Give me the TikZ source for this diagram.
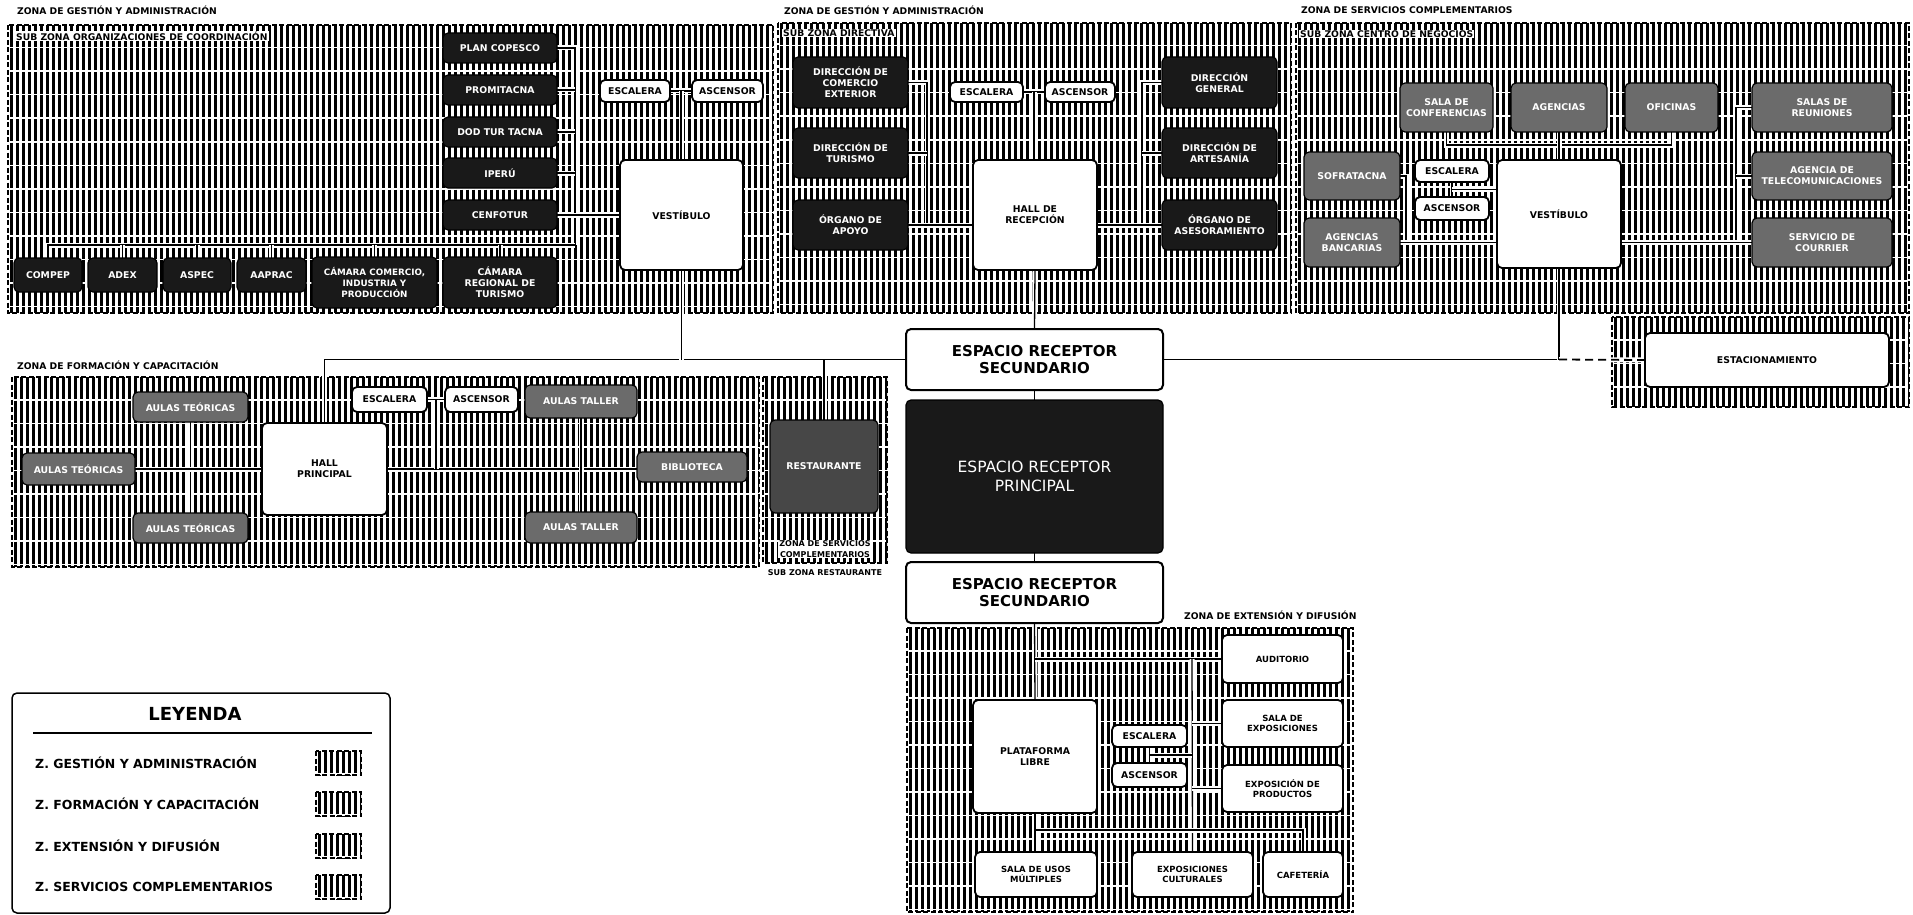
\documentclass[tikz,border=0pt]{standalone}
\usepackage{fontspec}
\setmainfont{DejaVu Sans}
\usetikzlibrary{calc}
\pgfdeclarelayer{bg}
\pgfdeclarelayer{cn}
\pgfsetlayers{bg,cn,main}
\tikzset{
  zoneborder/.style={draw=black, line width=2pt, dash pattern=on 5pt off 2.5pt},
  hatchline/.style={draw=black, line width=3pt, dash pattern=on 22pt off 1.5pt},
  blk/.style={draw=black, line width=1.2pt, fill=black!90, text=white, rounded corners=5pt,
    font=\bfseries\fontsize{9.3}{11}\selectfont, align=center, inner sep=0pt, outer sep=0pt},
  gry/.style={blk, fill=black!58},
  wht/.style={draw=black, line width=1.8pt, fill=white, rounded corners=5pt,
    font=\bfseries\fontsize{9.3}{11}\selectfont, align=center, inner sep=0pt, outer sep=0pt},
  whtreg/.style={wht, font=\bfseries\fontsize{8.5}{10.5}\selectfont},
  big/.style={wht, line width=2pt, font=\bfseries\fontsize{15}{17}\selectfont},
  conn/.style={draw=black, line width=1.3pt, preaction={draw=white, line width=5pt}},
  conndash/.style={draw=black, line width=1.8pt, dash pattern=on 8pt off 5pt,
    preaction={draw=white, line width=5pt, solid}},
  zlabel/.style={font=\bfseries\fontsize{9.2}{10}\selectfont, anchor=west, inner sep=1pt, fill=white},
  leg/.style={font=\bfseries\fontsize{12.5}{14}\selectfont, anchor=west, inner sep=0pt},
}
\newcommand\hatchzone[4]{%
  \begin{scope}
    \clip (#1,#2) rectangle (#3,#4);
    \pgfmathsetmacro\hza{#1+3}%
    \pgfmathsetmacro\hzb{#1+9}%
    \foreach \xx in {\hza,\hzb,...,#3} \draw[hatchline] (\xx,#2) -- (\xx,#4);
  \end{scope}%
  \draw[zoneborder] (#1,#2) rectangle (#3,#4);}
\newcommand\bx[7]{%
  \pgfmathsetmacro\bxw{#4-#2}%
  \pgfmathsetmacro\bxh{#5-#3}%
  \node[#6, minimum width=\bxw pt, minimum height=\bxh pt] (#1) at ({(#2+#4)/2},{(#3+#5)/2}) {#7};}
\begin{document}
\begin{tikzpicture}[x=1pt,y=-1pt]
\useasboundingbox (0,0) rectangle (1913,915);
\begin{pgfonlayer}{bg}
\fill[white] (0,0) rectangle (1913,915);
\hatchzone{8}{25}{773}{313}
\hatchzone{778}{23}{1291}{313}
\hatchzone{1296}{23}{1909}{313}
\hatchzone{1612}{317}{1909}{407}
\hatchzone{12}{377}{759}{567}
\hatchzone{763}{377}{887}{563}
\hatchzone{907}{628}{1353}{912}
\end{pgfonlayer}

% zone labels
\node[zlabel] (lz1) at (16,10) {ZONA DE GESTIÓN Y ADMINISTRACIÓN};
\node[zlabel] (lsz1) at (15,36) {SUB ZONA ORGANIZACIONES DE COORDINACIÓN};
\node[zlabel] (lz2) at (783,10) {ZONA DE GESTIÓN Y ADMINISTRACIÓN};
\node[zlabel] (lsz2) at (782,33) {SUB ZONA DIRECTIVA};
\node[zlabel] (lz3) at (1300,10) {ZONA DE SERVICIOS COMPLEMENTARIOS};
\node[zlabel] (lsz3) at (1299,34) {SUB ZONA CENTRO DE NEGOCIOS};
\node[zlabel] (lz4) at (16,365) {ZONA DE FORMACIÓN Y CAPACITACIÓN};
\node[zlabel] (lz5) at (1183,615) {ZONA DE EXTENSIÓN Y DIFUSIÓN};
\node[zlabel, anchor=center, align=center, font=\bfseries\fontsize{8}{10.5}\selectfont] (lz6) at (825,549) {ZONA DE SERVICIOS\\COMPLEMENTARIOS};
\node[zlabel, anchor=center, font=\bfseries\fontsize{8}{9}\selectfont] (lsz6) at (825,573) {SUB ZONA RESTAURANTE};

% zone 1
\bx{pc}{443}{33}{557}{63}{blk}{PLAN COPESCO}
\bx{pro}{443}{75}{557}{105}{blk}{PROMITACNA}
\bx{dod}{443}{117}{557}{147}{blk}{DOD TUR TACNA}
\bx{ipe}{443}{158}{557}{188}{blk}{IPERÚ}
\bx{cen}{443}{200}{557}{230}{blk}{CENFOTUR}
\bx{crt}{443}{257}{557}{308}{blk}{CÁMARA\\REGIONAL DE\\TURISMO}
\bx{cci}{312}{257}{437}{308}{blk, font=\bfseries\fontsize{8.8}{11}\selectfont}{CÁMARA COMERCIO,\\INDUSTRIA Y\\PRODUCCIÓN}
\bx{com}{14}{258}{82}{292}{blk}{COMPEP}
\bx{adx}{88}{258}{157}{292}{blk}{ADEX}
\bx{asp}{163}{258}{231}{292}{blk}{ASPEC}
\bx{aap}{237}{258}{306}{292}{blk}{AAPRAC}
\bx{ves1}{620}{160}{743}{270}{wht}{VESTÍBULO}
\bx{esc1}{600}{80}{670}{102}{wht}{ESCALERA}
\bx{asc1}{692}{80}{763}{102}{wht}{ASCENSOR}

% zone 2
\bx{dce}{793}{57}{908}{108}{blk}{DIRECCIÓN DE\\COMERCIO\\EXTERIOR}
\bx{dtu}{793}{128}{908}{178}{blk}{DIRECCIÓN DE\\TURISMO}
\bx{oap}{793}{200}{908}{250}{blk}{ÓRGANO DE\\APOYO}
\bx{esc2}{950}{82}{1023}{102}{wht}{ESCALERA}
\bx{asc2}{1045}{82}{1115}{102}{wht}{ASCENSOR}
\bx{hal}{973}{160}{1097}{270}{wht}{HALL DE\\RECEPCIÓN}
\bx{dge}{1162}{57}{1277}{108}{blk}{DIRECCIÓN\\GENERAL}
\bx{dar}{1162}{128}{1277}{178}{blk}{DIRECCIÓN DE\\ARTESANÍA}
\bx{oas}{1162}{200}{1277}{250}{blk}{ÓRGANO DE\\ASESORAMIENTO}

% zone 3
\bx{sco}{1400}{83}{1493}{132}{gry}{SALA DE\\CONFERENCIAS}
\bx{age}{1511}{83}{1607}{132}{gry}{AGENCIAS}
\bx{ofi}{1625}{83}{1718}{132}{gry}{OFICINAS}
\bx{sre}{1752}{83}{1892}{132}{gry}{SALAS DE\\REUNIONES}
\bx{ate}{1752}{152}{1892}{200}{gry}{AGENCIA DE\\TELECOMUNICACIONES}
\bx{scu}{1752}{218}{1892}{267}{gry}{SERVICIO DE\\COURRIER}
\bx{sof}{1304}{152}{1400}{200}{gry}{SOFRATACNA}
\bx{aba}{1304}{218}{1400}{267}{gry}{AGENCIAS\\BANCARIAS}
\bx{esc3}{1415}{160}{1489}{182}{wht}{ESCALERA}
\bx{asc3}{1415}{197}{1489}{220}{wht}{ASCENSOR}
\bx{ves3}{1497}{160}{1621}{268}{wht}{VESTÍBULO}
\bx{est}{1645}{333}{1889}{387}{wht}{ESTACIONAMIENTO}

% central
\bx{ers1}{906}{329}{1163}{390}{big}{ESPACIO RECEPTOR\\SECUNDARIO}
\bx{erp}{906}{400}{1163}{553}{blk, font=\fontsize{15.5}{19}\selectfont}{ESPACIO RECEPTOR\\PRINCIPAL}
\bx{ers2}{906}{562}{1163}{623}{big}{ESPACIO RECEPTOR\\SECUNDARIO}

% formation
\bx{at1}{133}{392}{248}{422}{gry}{AULAS TEÓRICAS}
\bx{at2}{22}{453}{135}{485}{gry}{AULAS TEÓRICAS}
\bx{at3}{133}{513}{248}{543}{gry}{AULAS TEÓRICAS}
\bx{hp}{262}{423}{387}{515}{wht}{HALL\\PRINCIPAL}
\bx{esc4}{352}{387}{427}{412}{wht}{ESCALERA}
\bx{asc4}{445}{387}{518}{412}{wht}{ASCENSOR}
\bx{ata1}{525}{385}{637}{418}{gry}{AULAS TALLER}
\bx{bib}{637}{452}{747}{482}{gry}{BIBLIOTECA}
\bx{ata2}{525}{512}{637}{543}{gry}{AULAS TALLER}
\bx{res}{770}{420}{878}{513}{gry, fill=black!72}{RESTAURANTE}

% extension
\bx{plat}{973}{700}{1097}{813}{wht}{PLATAFORMA\\LIBRE}
\bx{esc5}{1112}{725}{1187}{747}{wht}{ESCALERA}
\bx{asc5}{1112}{763}{1187}{787}{wht}{ASCENSOR}
\bx{aud}{1222}{635}{1343}{683}{whtreg}{AUDITORIO}
\bx{sex}{1222}{700}{1343}{747}{whtreg}{SALA DE\\EXPOSICIONES}
\bx{epr}{1222}{765}{1343}{812}{whtreg}{EXPOSICIÓN DE\\PRODUCTOS}
\bx{bo1}{975}{852}{1097}{897}{whtreg}{SALA DE USOS\\MÚLTIPLES}
\bx{bo2}{1132}{852}{1253}{897}{whtreg}{EXPOSICIONES\\CULTURALES}
\bx{bo3}{1263}{852}{1343}{897}{whtreg}{CAFETERÍA}

% legend
\node[draw=black, line width=1.5pt, rounded corners=5pt, minimum width=378pt, minimum height=220pt, inner sep=0pt] (legbox) at (201,803) {};
\node[font=\bfseries\fontsize{18}{20}\selectfont] (legt) at (195,714) {LEYENDA};
\coordinate (lgl) at (33,733);
\coordinate (lgr) at (372,733);
\draw[line width=1.2pt] (lgl) -- (lgr);
\node[leg] (lg1) at (35,763) {Z. GESTIÓN Y ADMINISTRACIÓN};
\node[leg] (lg2) at (35,804) {Z. FORMACIÓN Y CAPACITACIÓN};
\node[leg] (lg3) at (35,846) {Z. EXTENSIÓN Y DIFUSIÓN};
\node[leg] (lg4) at (35,887) {Z. SERVICIOS COMPLEMENTARIOS};
\hatchzone{316}{751}{361}{775}
\hatchzone{316}{792}{361}{816}
\hatchzone{316}{834}{361}{858}
\hatchzone{316}{875}{361}{899}

% junction coordinates
\coordinate (V1) at (575,0);
\coordinate (B1) at (0,245);
\coordinate (L2) at (927,0);
\coordinate (R2) at (1142,0);
\coordinate (T3) at (0,145);
\coordinate (L3) at (1406,0);
\coordinate (R3) at (1736,0);
\coordinate (X5) at (1192,0);
\coordinate (B5) at (0,830);
\coordinate (j1) at ($(esc1.east)!0.5!(asc1.west)$);
\coordinate (j2) at ($(esc2.east)!0.5!(asc2.west)$);
\coordinate (j3) at ($(esc3.south)!0.5!(asc3.north)$);
\coordinate (j4) at ($(esc4.east)!0.5!(asc4.west)$);
\coordinate (j5) at ($(esc5.south)!0.5!(asc5.north)$);
\coordinate (pk) at (ves3.south |- ers1.east);

\begin{pgfonlayer}{cn}
% zone 1
\draw[conn] (pc.east) -- (pc.east -| V1) -- (V1 |- B1);
\draw[conn] (pro.east) -- (pro.east -| V1);
\draw[conn] (dod.east) -- (dod.east -| V1);
\draw[conn] (ipe.east) -- (ipe.east -| V1);
\draw[conn] (cen.east) -- (cen.east -| ves1.west);
\draw[conn] (com.north) |- (V1 |- B1);
\draw[conn] (adx.north) -- (adx.north |- B1);
\draw[conn] (asp.north) -- (asp.north |- B1);
\draw[conn] (aap.north) -- (aap.north |- B1);
\draw[conn] (cci.north) -- (cci.north |- B1);
\draw[conn] (crt.north) -- (crt.north |- B1);
\draw[conn] (esc1.east) -- (asc1.west);
\draw[conn] (j1) -- (j1 |- ves1.north);
% zone 2
\draw[conn] (dce.east) -- (dce.east -| L2) -- (oap.east -| L2);
\draw[conn] (dtu.east) -- (dtu.east -| L2);
\draw[conn] (oap.east) -- (oap.east -| hal.west);
\draw[conn] (dge.west) -- (dge.west -| R2) -- (oas.west -| R2);
\draw[conn] (dar.west) -- (dar.west -| R2);
\draw[conn] (oas.west) -- (oas.west -| hal.east);
\draw[conn] (esc2.east) -- (asc2.west);
\draw[conn] (j2) -- (j2 |- hal.north);
% zone 3
\draw[conn] (sco.south) -- (sco.south |- T3) -- (ofi.south |- T3) -- (ofi.south);
\draw[conn] (age.south) -- (age.south |- ves3.north);
\draw[conn] (sof.east) -- (sof.east -| L3) -- (aba.east -| L3);
\draw[conn] (aba.east) -- (aba.east -| ves3.west);
\draw[conn] (esc3.south) -- (asc3.north);
\draw[conn] (j3) -- (j3 -| ves3.west);
\draw[conn] (sre.west) -- (sre.west -| R3) -- (scu.west -| R3);
\draw[conn] (ate.west) -- (ate.west -| R3);
\draw[conn] (scu.west) -- (scu.west -| ves3.east);
% main spine
\draw[conn] (hp.north) |- (ers1.west);
\draw[conn] (ves1.south) -- (ves1.south |- ers1.west);
\draw[conn] (res.north) -- (res.north |- ers1.west);
\draw[conn] (hal.south) -- (ers1.north);
\draw[conn] (ers1.east) -- (pk);
\draw[conn] (ves3.south) -- (pk);
\draw[conndash] (pk) -- (est.west);
\draw[conn] (ers1.south) -- (erp.north);
\draw[conn] (erp.south) -- (ers2.north);
\draw[conn] (ers2.south) -- (plat.north);
% formation
\draw[conn] (at1.south) -- (at3.north);
\draw[conn] (at2.east) -- (hp.west);
\draw[conn] (hp.east) -- (hp.east -| bib.west);
\draw[conn] (ata1.south) -- (ata2.north);
\draw[conn] (esc4.east) -- (asc4.west);
\draw[conn] (j4) -- (j4 |- hp.east);
% extension
\draw[conn] (plat.north |- aud.west) -- (aud.west);
\draw[conn] (aud.west -| X5) -- (bo2.north);
\draw[conn] (sex.west) -- (sex.west -| X5);
\draw[conn] (epr.west) -- (epr.west -| X5);
\draw[conn] (esc5.south) -- (asc5.north);
\draw[conn] (j5) -- (j5 -| X5);
\draw[conn] (plat.south) -- (plat.south |- bo1.north);
\draw[conn] (bo1.north |- B5) -- (bo3.north |- B5) -- (bo3.north);
\end{pgfonlayer}
\end{tikzpicture}
\end{document}
